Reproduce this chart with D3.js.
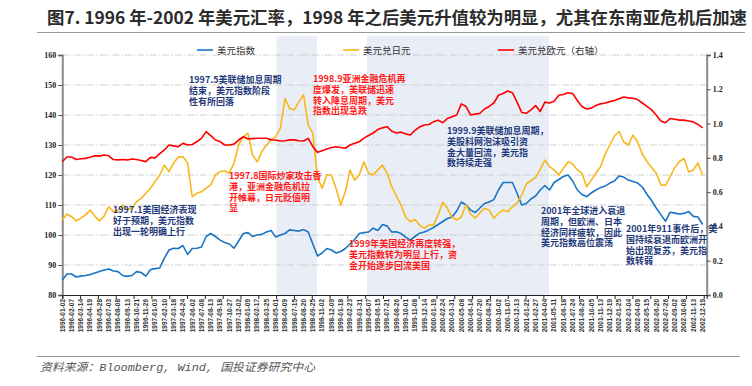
<!DOCTYPE html>
<html>
<head>
<meta charset="utf-8">
<script src="https://cdn.jsdelivr.net/npm/d3@7"></script>
<style>
body { margin: 0; background: #fff; }
svg { display: block; }
</style>
</head>
<body>
<script>
var width = 752, height = 386;

// x axis: one label every 25 trading days
var dateLabels = [
  "1996-01-02","1996-02-07","1996-03-14","1996-04-19","1996-05-28","1996-07-03","1996-08-08","1996-09-13","1996-10-21","1996-11-26",
  "1997-01-03","1997-02-10","1997-03-18","1997-04-24","1997-06-02","1997-07-08","1997-08-13","1997-09-18","1997-10-27","1997-12-02",
  "1998-01-09","1998-02-17","1998-03-25","1998-05-01","1998-06-09","1998-07-15","1998-08-20","1998-09-25","1998-11-02","1998-12-09",
  "1999-01-18","1999-02-23","1999-03-31","1999-05-07","1999-06-15","1999-07-21","1999-08-26","1999-10-01","1999-11-08","1999-12-14",
  "2000-01-19","2000-02-24","2000-03-31","2000-05-08","2000-06-14","2000-07-20","2000-08-25","2000-10-02","2000-11-07","2000-12-13",
  "2001-01-22","2001-02-27","2001-04-04","2001-05-11","2001-06-18","2001-07-24","2001-08-29","2001-10-05","2001-11-13","2001-12-19",
  "2002-01-25","2002-03-04","2002-04-09","2002-05-15","2002-06-20","2002-07-26","2002-09-02","2002-10-08","2002-11-13","2002-12-19"
];

// series, one value every 12.5 trading days
var usdIndex = [
  85, 87, 87, 86, 86.3, 86.5, 86.8, 87.3, 87.8, 88.3,
  88.7, 88, 87.8, 86.5, 86.2, 86.5, 87.8, 87.5, 86.3, 88.5,
  88.8, 89, 92.3, 95, 95.6, 95.5, 96.5, 93.5, 95.5, 95.6,
  96, 99.5, 100.5, 99.5, 98.3, 97.5, 97, 95.6, 98, 100.5,
  100.8, 99.5, 100, 100.2, 101, 101.5, 99.3, 100, 100.5, 101.7,
  101.5, 101.3, 101.8, 101, 97, 93, 94, 95.5, 95, 94,
  94.5, 95.5, 97, 98.5, 100.5, 100.8, 101, 102.3, 101.5, 103.5,
  103, 101, 101.1, 100.5, 99.3, 98.3, 99.5, 100.6, 101, 101.7,
  102.5, 103.5, 104.5, 105.5, 106, 108, 111, 110, 108.3, 107.5,
  109, 110.5, 111, 111.8, 115, 117.5, 117.5, 117.5, 114, 110,
  110.5, 112, 113, 115, 116.5, 115, 117.5, 118.5, 119.5, 120,
  118, 115, 113.5, 112.8, 114, 115, 115.8, 116.3, 117.3, 118,
  119.7, 119.3, 118.3, 117.8, 117.3, 116, 113.6, 111.5, 109, 106.8,
  104.6, 107.6, 107.3, 107, 107.2, 107.8, 106.2, 106, 103.5
];
var usdJpy = [
  105, 107, 106.1, 104.7, 105.6, 106.7, 108.3, 106.3, 104.7, 106.3,
  109.4, 107.8, 108.1, 110, 108.6, 108.9, 111.1, 112.2, 113.9, 115.6,
  117.8, 120, 123.3, 121.1, 124, 126, 126.1, 124, 112.8, 113.9,
  114.4, 115.6, 116.7, 120, 121.1, 121.4, 120.6, 124, 130, 132.8,
  133.9, 126.7, 124.4, 127.8, 130, 131.7, 132.8, 135.6, 145.5, 142.2,
  141.7, 144.4, 146.7, 136.7, 133.9, 119, 115.6, 120, 120, 115.6,
  110, 114.4, 121.7, 118.3, 120, 124.4, 120.6, 120, 121.7, 123.3,
  120.6, 116.1, 113, 110, 105.9, 104.4, 105.2, 103.3, 102.2, 103.3,
  103.3, 106.7, 111, 108.9, 105.9, 105, 106, 110, 107, 105.6,
  107.4, 108.9, 108.3, 105.6, 107.2, 108.3, 107.8, 109.4, 110.6, 113.3,
  117, 118.1, 119.2, 121.9, 125, 122.8, 121.7, 120, 122.2, 124.4,
  123.7, 121.7, 120.6, 116.1, 118.3, 120.6, 122.8, 127, 130, 133,
  134.5, 131, 130, 133.3, 131, 127, 124.5, 122.5, 120.6, 116.7,
  116.5, 119.5, 122.5, 124.5, 125.5, 121, 121.7, 124, 120
];
var usdEur = [
  0.778, 0.805, 0.805, 0.79, 0.795, 0.797, 0.803, 0.813, 0.81, 0.817,
  0.812, 0.79, 0.788, 0.79, 0.788, 0.793, 0.79, 0.785, 0.778, 0.803,
  0.8, 0.825, 0.846, 0.875, 0.87, 0.865, 0.885, 0.875, 0.878, 0.894,
  0.914, 0.953, 0.93, 0.904, 0.895, 0.875, 0.875, 0.88, 0.904, 0.923,
  0.91, 0.912, 0.914, 0.914, 0.914, 0.905, 0.904, 0.898, 0.9, 0.905,
  0.905, 0.9, 0.898, 0.914, 0.865, 0.832, 0.842, 0.852, 0.86, 0.865,
  0.86, 0.856, 0.875, 0.885, 0.894, 0.915, 0.93, 0.945, 0.965, 0.975,
  0.982, 0.955, 0.945, 0.95, 0.94, 0.933, 0.96, 0.98, 0.992, 0.995,
  1.01, 1.02, 1.005, 1.03, 1.04, 1.05, 1.115, 1.1, 1.05, 1.055,
  1.06, 1.085, 1.1, 1.12, 1.165, 1.175, 1.19, 1.18, 1.125, 1.065,
  1.06, 1.08, 1.105, 1.07, 1.125, 1.12, 1.13, 1.165, 1.17, 1.18,
  1.175, 1.135, 1.1, 1.085, 1.09, 1.105, 1.115, 1.12, 1.128, 1.135,
  1.145, 1.155, 1.15, 1.148, 1.14, 1.12, 1.1, 1.08, 1.05, 1.015,
  1.005, 1.03, 1.025, 1.02, 1.02, 1.015, 1.01, 0.995, 0.975
];

var seriesNames = ["美元指数", "美元兑日元", "美元兑欧元（右轴）"];
var leftTicks = [80, 90, 100, 110, 120, 130, 140, 150, 160];
var rightTicks = [0, 0.2, 0.4, 0.6, 0.8, 1.0, 1.2, 1.4];
// shaded periods, in trading-day index
var shadeStart = [577, 821];
var shadeEnd = [686, 1311];

var notes = [
  {lines: ["1997.5美联储加息周期", "结束，美元指数阶段", "性有所回落"], color: "#1f3a7a"},
  {lines: ["1998.9亚洲金融危机再", "度爆发，美联储迅速", "转入降息周期，美元", "指数出现急跌"], color: "#ff1a1a"},
  {lines: ["1999.9美联储加息周期，", "美股科网泡沫吸引资", "金大量回流，美元指", "数持续走强"], color: "#1f3a7a"},
  {lines: ["1997.8国际炒家攻击香", "港，亚洲金融危机拉", "开帷幕，日元贬值明", "显"], color: "#ff1a1a"},
  {lines: ["1997.1美国经济表现", "好于预期，美元指数", "出现一轮明确上行"], color: "#1f3a7a"},
  {lines: ["1999年美国经济再度转强，", "美元指数转为明显上行，资", "金开始逐步回流美国"], color: "#ff1a1a"},
  {lines: ["2001年全球进入衰退", "周期，但欧洲、日本", "经济同样疲软，因此", "美元指数高位震荡"], color: "#1f3a7a"},
  {lines: ["2001年911事件后，美", "国持续衰退而欧洲开", "始出现复苏，美元指", "数转弱"], color: "#1f3a7a"}
];
var notePos = [[189, 83], [313, 82], [447, 134], [229, 179], [113, 213], [349, 247], [541, 214], [626, 232]];

var svg = d3.select("body").append("svg")
    .attr("width", width)
    .attr("height", height);

var cjk = "'Noto Sans CJK SC', 'Noto Sans', sans-serif";

// title
svg.append("text")
    .attr("x", 47).attr("y", 24)
    .attr("font-family", "'Liberation Sans Narrow', " + cjk)
    .attr("font-size", 16.5)
    .attr("font-weight", "bold")
    .attr("fill", "#2b2b2b")
    .attr("textLength", 700)
    .attr("lengthAdjust", "spacingAndGlyphs")
    .text("图7. 1996 年-2002 年美元汇率，1998 年之后美元升值较为明显，尤其在东南亚危机后加速");
svg.append("line").attr("x1", 37).attr("x2", 745).attr("y1", 32.5).attr("y2", 32.5)
    .attr("stroke", "#999").attr("stroke-width", 1);

var x = d3.scaleLinear().domain([0, 1736]).range([62.3, 706.7]);
var y = d3.scaleLinear().domain([80, 160]).range([295, 55]);
var y2 = d3.scaleLinear().domain([0, 1.4]).range([295, 55]);
var step = 12.5;

// shaded periods
svg.selectAll(".shade")
    .data(shadeStart)
    .enter().append("rect")
    .attr("x", function(d) { return x(d); })
    .attr("width", function(d, i) { return x(shadeEnd[i]) - x(d); })
    .attr("y", 36)
    .attr("height", 295 - 36)
    .attr("fill", "#e9edf6");

// grid lines
svg.selectAll(".grid")
    .data(leftTicks.slice(1))
    .enter().append("line")
    .attr("x1", x(0)).attr("x2", x(1736))
    .attr("y1", function(d) { return y(d); })
    .attr("y2", function(d) { return y(d); })
    .attr("stroke", "#c4c4c4")
    .attr("stroke-width", 0.8)
    .attr("stroke-dasharray", "7,2,1.5,2");

// left axis
var gl = svg.append("g").attr("transform", "translate(" + x(0) + ",0)")
    .call(d3.axisLeft(y).tickValues(leftTicks).tickSize(4).tickPadding(2));
gl.select(".domain").attr("stroke", "#8c8c8c").attr("stroke-width", 2);
gl.selectAll(".tick line").attr("stroke", "#555");
gl.selectAll("text").attr("font-family", "'Liberation Serif', serif").attr("font-weight", "bold")
    .attr("font-size", 8).attr("fill", "#222");

// right axis
var gr = svg.append("g").attr("transform", "translate(" + x(1736) + ",0)")
    .call(d3.axisRight(y2).tickValues(rightTicks).tickFormat(d3.format(".1f")).tickSize(4).tickPadding(2));
gr.select(".domain").attr("stroke", "#8c8c8c").attr("stroke-width", 2);
gr.selectAll(".tick line").attr("stroke", "#555");
gr.selectAll("text").attr("font-family", "'Liberation Serif', serif").attr("font-weight", "bold")
    .attr("font-size", 8).attr("fill", "#222");

// bottom axis: ticks every 48 days, labels every 25 days
var gb = svg.append("g").attr("transform", "translate(0,295)")
    .call(d3.axisBottom(x).tickValues(d3.range(0, 1737, 48)).tickSize(4).tickFormat(""));
gb.select(".domain").attr("stroke", "#222").attr("stroke-width", 1);
gb.selectAll(".tick line").attr("stroke", "#222");

svg.selectAll(".xlabel")
    .data(dateLabels)
    .enter().append("text")
    .attr("transform", function(d, i) { return "translate(" + (x(i * 25) + 2.3) + ",299) rotate(-90)"; })
    .attr("text-anchor", "end")
    .attr("font-family", "'Liberation Sans', Arial, sans-serif")
    .attr("font-weight", "bold")
    .attr("font-size", 6.5)
    .attr("fill", "#333")
    .text(function(d) { return d; });

// lines
function drawLine(values, yScale, color) {
  var line = d3.line()
      .x(function(d, i) { return x(i * step); })
      .y(function(d) { return yScale(d); });
  svg.append("path")
      .datum(values)
      .attr("d", line)
      .attr("fill", "none")
      .attr("stroke", color)
      .attr("stroke-width", 1.6)
      .attr("stroke-linejoin", "round");
}
var colors = ["#1874c4", "#f7b718", "#ff0000"];
drawLine(usdIndex, y, colors[0]);
drawLine(usdJpy, y, colors[1]);
drawLine(usdEur, y2, colors[2]);

// legend
var legendX = [197, 343, 498];
seriesNames.forEach(function(name, i) {
  svg.append("line")
      .attr("x1", legendX[i]).attr("x2", legendX[i] + 16)
      .attr("y1", 50).attr("y2", 50)
      .attr("stroke", colors[i]).attr("stroke-width", 1.6);
  svg.append("text")
      .attr("x", legendX[i] + 20).attr("y", 53.5)
      .attr("font-family", cjk)
      .attr("font-size", 9.5)
      .attr("fill", "#333")
      .text(name);
});

// annotations
notes.forEach(function(n, i) {
  var t = svg.append("text")
      .attr("font-family", cjk)
      .attr("font-size", 9)
      .attr("font-weight", "bold")
      .attr("fill", n.color);
  n.lines.forEach(function(s, k) {
    t.append("tspan")
        .attr("x", notePos[i][0])
        .attr("y", notePos[i][1] + k * 10.8)
        .text(s);
  });
});

// source
svg.append("line").attr("x1", 37).attr("x2", 740).attr("y1", 356.5).attr("y2", 356.5)
    .attr("stroke", "#999").attr("stroke-width", 1);
svg.append("text")
    .attr("x", 40).attr("y", 371)
    .attr("font-family", "'Liberation Mono', " + cjk)
    .attr("font-style", "italic")
    .attr("font-size", 11)
    .attr("fill", "#555")
    .attr("textLength", 275)
    .attr("lengthAdjust", "spacingAndGlyphs")
    .text("资料来源：Bloomberg, Wind, 国投证券研究中心");
</script>
</body>
</html>
